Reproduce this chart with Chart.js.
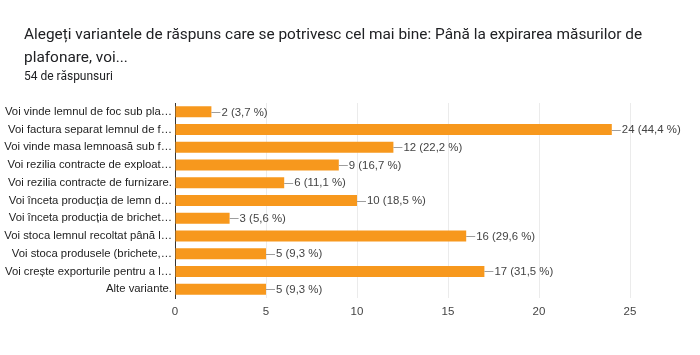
<!DOCTYPE html>
<html>
<head>
<meta charset="utf-8">
<script src="https://cdn.jsdelivr.net/npm/chart.js@4"></script>
<style>
  html, body { margin: 0; padding: 0; background: #fff; }
  #wrap { position: relative; width: 700px; height: 355px; }
  #title { position: absolute; left: 24px; top: 23px; width: 660px; font-family: Roboto, "Liberation Sans", sans-serif; font-size: 15.4px; line-height: 23px; color: #202124; }
  #sub { position: absolute; left: 24px; top: 69px; font-family: Roboto, "Liberation Sans", sans-serif; font-size: 12px; color: #202124; }
  canvas { position: absolute; left: 0; top: 0; }
</style>
</head>
<body>
<div id="wrap">
  <canvas id="c" width="700" height="355"></canvas>
  <div id="title">Alegeți variantele de răspuns care se potrivesc cel mai bine: Până la expirarea măsurilor de plafonare, voi...</div>
  <div id="sub">54 de răspunsuri</div>
</div>
<script>
const categories = [
  "Voi vinde lemnul de foc sub pla…",
  "Voi factura separat lemnul de f…",
  "Voi vinde masa lemnoasă sub f…",
  "Voi rezilia contracte de exploat…",
  "Voi rezilia contracte de furnizare.",
  "Voi înceta producția de lemn d…",
  "Voi înceta producția de brichet…",
  "Voi stoca lemnul recoltat până l…",
  "Voi stoca produsele (brichete,…",
  "Voi crește exporturile pentru a l…",
  "Alte variante."
];
const counts = [2, 24, 12, 9, 6, 10, 3, 16, 5, 17, 5];
const percents = ["3,7", "44,4", "22,2", "16,7", "11,1", "18,5", "5,6", "29,6", "9,3", "31,5", "9,3"];
const xTicks = [0, 5, 10, 15, 20, 25];

const FONT = '"Liberation Sans", Arial, sans-serif';

const labelPlugin = {
  id: 'barLabels',
  afterDatasetsDraw(chart) {
    const ctx = chart.ctx;
    const meta = chart.getDatasetMeta(0);
    ctx.save();
    ctx.font = '11.4px ' + FONT;
    ctx.textBaseline = 'middle';
    ctx.textAlign = 'left';
    meta.data.forEach((bar, i) => {
      const x = bar.x, y = bar.y;
      ctx.strokeStyle = '#9e9e9e';
      ctx.lineWidth = 1;
      ctx.beginPath();
      ctx.moveTo(x, Math.round(y) + 0.5);
      ctx.lineTo(x + 9, Math.round(y) + 0.5);
      ctx.stroke();
      ctx.fillStyle = '#444';
      ctx.fillText(counts[i] + ' (' + percents[i] + ' %)', x + 10, y + 0.5);
    });
    ctx.restore();
  }
};

new Chart(document.getElementById('c'), {
  type: 'bar',
  data: {
    labels: categories,
    datasets: [{
      data: counts,
      backgroundColor: '#f7981d',
      borderWidth: 0,
      categoryPercentage: 1,
      barPercentage: 0.62
    }]
  },
  options: {
    indexAxis: 'y',
    responsive: false,
    animation: false,
    layout: { padding: { top: 103, right: 70, left: 0, bottom: 0 } },
    plugins: { legend: { display: false }, tooltip: { enabled: false }, title: { display: false } },
    scales: {
      x: {
        min: 0, max: 25,
        afterBuildTicks(scale) { scale.ticks = xTicks.map(v => ({ value: v })); },
        afterFit(scale) { scale.height = 57; },
        grid: { color: '#ebebeb', drawTicks: false },
        border: { display: false },
        ticks: { padding: 7, color: '#444', font: { family: FONT, size: 11.5 } }
      },
      y: {
        afterFit(scale) { scale.width = 175; },
        grid: { display: false, drawTicks: false },
        border: { display: true, color: '#333', width: 1 },
        ticks: { padding: 3, color: '#222', autoSkip: false, font: { family: FONT, size: 11.3 } }
      }
    }
  },
  plugins: [labelPlugin]
});
</script>
</body>
</html>
